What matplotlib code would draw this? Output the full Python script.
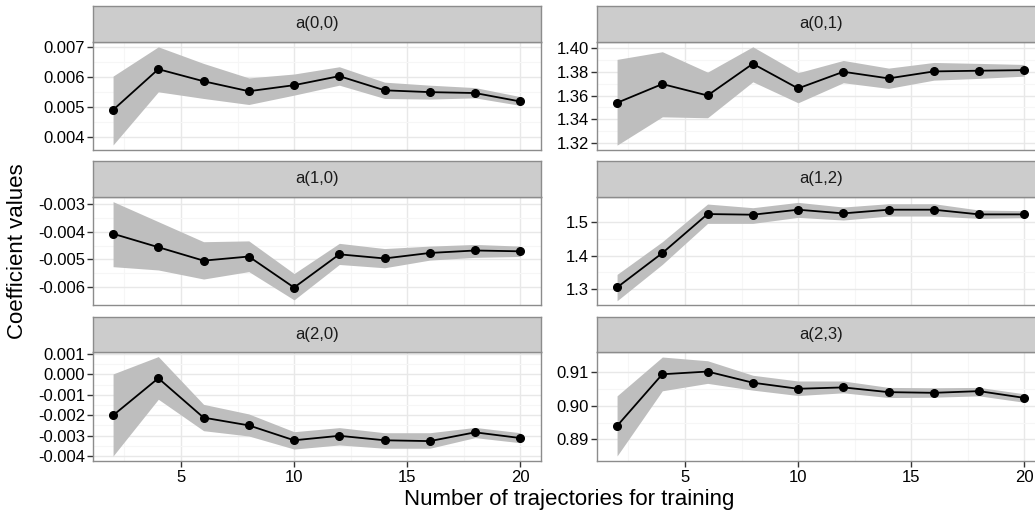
import numpy as np
import matplotlib
matplotlib.use('Agg')
import matplotlib.pyplot as plt
from matplotlib.ticker import FixedLocator, FormatStrFormatter

plt.rcParams['font.family'] = ['Liberation Sans', 'DejaVu Sans']
plt.rcParams['axes.unicode_minus'] = False

# number of trajectories used for training
n_traj = [2, 4, 6, 8, 10, 12, 14, 16, 18, 20]

# coefficient estimates (mean, lower band, upper band) per panel
a00_mean = [0.00491, 0.00626, 0.00586, 0.00553, 0.00573, 0.00603, 0.00556, 0.00550, 0.00547, 0.00519]
a00_low = [0.00375, 0.00551, 0.00529, 0.00509, 0.00540, 0.00573, 0.00529, 0.00527, 0.00531, 0.00506]
a00_high = [0.00603, 0.00700, 0.00645, 0.00597, 0.00610, 0.00634, 0.00583, 0.00573, 0.00565, 0.00535]

a01_mean = [1.3539, 1.3698, 1.3601, 1.3870, 1.3661, 1.3802, 1.3746, 1.3805, 1.3811, 1.3816]
a01_low = [1.3180, 1.3420, 1.3412, 1.3717, 1.3539, 1.3709, 1.3661, 1.3731, 1.3746, 1.3765]
a01_high = [1.3907, 1.3972, 1.3799, 1.4014, 1.3794, 1.3898, 1.3833, 1.3881, 1.3873, 1.3864]

a10_mean = [-0.00407, -0.00456, -0.00505, -0.00490, -0.00603, -0.00482, -0.00497, -0.00477, -0.00468, -0.00471]
a10_low = [-0.00527, -0.00539, -0.00572, -0.00545, -0.00648, -0.00519, -0.00531, -0.00503, -0.00493, -0.00490]
a10_high = [-0.00290, -0.00363, -0.00436, -0.00433, -0.00552, -0.00442, -0.00461, -0.00452, -0.00446, -0.00452]

a12_mean = [1.305, 1.408, 1.525, 1.523, 1.538, 1.527, 1.538, 1.538, 1.524, 1.524]
a12_low = [1.265, 1.374, 1.497, 1.497, 1.515, 1.507, 1.519, 1.519, 1.512, 1.514]
a12_high = [1.344, 1.442, 1.555, 1.544, 1.560, 1.546, 1.556, 1.556, 1.537, 1.535]

a20_mean = [-0.00201, -0.00019, -0.00212, -0.00250, -0.00323, -0.00301, -0.00323, -0.00327, -0.00284, -0.00312]
a20_low = [-0.00400, -0.00122, -0.00276, -0.00302, -0.00366, -0.00346, -0.00362, -0.00362, -0.00310, -0.00335]
a20_high = [0.00002, 0.00087, -0.00147, -0.00194, -0.00281, -0.00261, -0.00286, -0.00286, -0.00260, -0.00286]

a23_mean = [0.8940, 0.9093, 0.9101, 0.9068, 0.9050, 0.9054, 0.9040, 0.9038, 0.9043, 0.9023]
a23_low = [0.8851, 0.9044, 0.9066, 0.9046, 0.9030, 0.9038, 0.9024, 0.9025, 0.9029, 0.9010]
a23_high = [0.9029, 0.9144, 0.9133, 0.9090, 0.9073, 0.9073, 0.9054, 0.9053, 0.9054, 0.9035]

panel_labels = ['a(0,0)', 'a(0,1)', 'a(1,0)', 'a(1,2)', 'a(2,0)', 'a(2,3)']
panel_series = [
    (a00_mean, a00_low, a00_high),
    (a01_mean, a01_low, a01_high),
    (a10_mean, a10_low, a10_high),
    (a12_mean, a12_low, a12_high),
    (a20_mean, a20_low, a20_high),
    (a23_mean, a23_low, a23_high),
]
# y ticks per panel (free scales like facet_wrap)
panel_yticks = [
    [0.004, 0.005, 0.006, 0.007],
    [1.32, 1.34, 1.36, 1.38, 1.40],
    [-0.006, -0.005, -0.004, -0.003],
    [1.3, 1.4, 1.5],
    [-0.004, -0.003, -0.002, -0.001, 0.000, 0.001],
    [0.89, 0.90, 0.91],
]
panel_fmt = ['%.3f', '%.2f', '%.3f', '%.1f', '%.3f', '%.2f']
panel_ylim = [
    (0.00358, 0.00717),
    (1.3138, 1.4057),
    (-0.00667, -0.00272),
    (1.252, 1.577),
    (-0.00423, 0.00108),
    (0.8837, 0.9158),
]

W, H = 1035, 516
fig = plt.figure(figsize=(W / 100, H / 100), dpi=100)

col_left = [92.7, 596.7]
panel_w = 448
row_top = [41.7, 196.7, 352.3]
panel_h = 108.4
strip_h = 35.5

for i, label in enumerate(panel_labels):
    r, c = divmod(i, 2)
    x0 = col_left[c] / W
    y0 = 1 - (row_top[r] + panel_h) / H
    ax = fig.add_axes([x0, y0, panel_w / W, panel_h / H])
    mean, low, high = panel_series[i]

    ax.fill_between(n_traj, low, high, color='#bebebe', lw=0, zorder=2)
    ax.plot(n_traj, mean, color='black', lw=1.3, zorder=3)
    ax.plot(n_traj, mean, 'o', color='black', ms=5.5, zorder=4)

    ax.set_xlim(1.1, 20.9)
    ax.set_ylim(*panel_ylim[i])
    yt = panel_yticks[i]
    ax.yaxis.set_major_locator(FixedLocator(yt))
    ax.yaxis.set_minor_locator(FixedLocator([(a + b) / 2 for a, b in zip(yt[:-1], yt[1:])]))
    ax.yaxis.set_major_formatter(FormatStrFormatter(panel_fmt[i]))
    ax.xaxis.set_major_locator(FixedLocator([5, 10, 15, 20]))
    ax.xaxis.set_minor_locator(FixedLocator([2.5, 7.5, 12.5, 17.5]))

    ax.grid(which='major', color='#e8e8e8', lw=1.0, zorder=0)
    ax.grid(which='minor', color='#f6f6f6', lw=0.8, zorder=0)
    ax.set_axisbelow(True)

    for s in ax.spines.values():
        s.set_color('#8c8c8c')
        s.set_linewidth(1.0)

    ax.tick_params(axis='y', which='major', direction='out', length=4, width=1,
                   color='#333333', labelsize=12, pad=1.5, labelcolor='black')
    ax.tick_params(which='minor', length=0)
    if r == 2:
        ax.tick_params(axis='x', which='major', direction='out', length=4, width=1,
                       color='#333333', labelsize=12, pad=3, labelcolor='black')
    else:
        ax.tick_params(axis='x', which='major', length=0, labelbottom=False)

    # facet strip
    sy0 = 1 - row_top[r] / H
    sax = fig.add_axes([x0, sy0, panel_w / W, strip_h / H])
    sax.set_facecolor('#cccccc')
    sax.set_xticks([])
    sax.set_yticks([])
    for s in sax.spines.values():
        s.set_color('#8c8c8c')
        s.set_linewidth(1.0)
    sax.text(0.5, 0.5, label, ha='center', va='center', fontsize=12,
             color='#1a1a1a', transform=sax.transAxes)

fig.text((92.7 + 596.7 + panel_w) / 2 / W, 1 - 500 / H, 'Number of trajectories for training',
         ha='center', va='center', fontsize=16)
fig.text(18 / W, 1 - 251 / H, 'Coefficient values', ha='center', va='center',
         rotation=90, fontsize=16)

fig.savefig('out.png', dpi=100)
